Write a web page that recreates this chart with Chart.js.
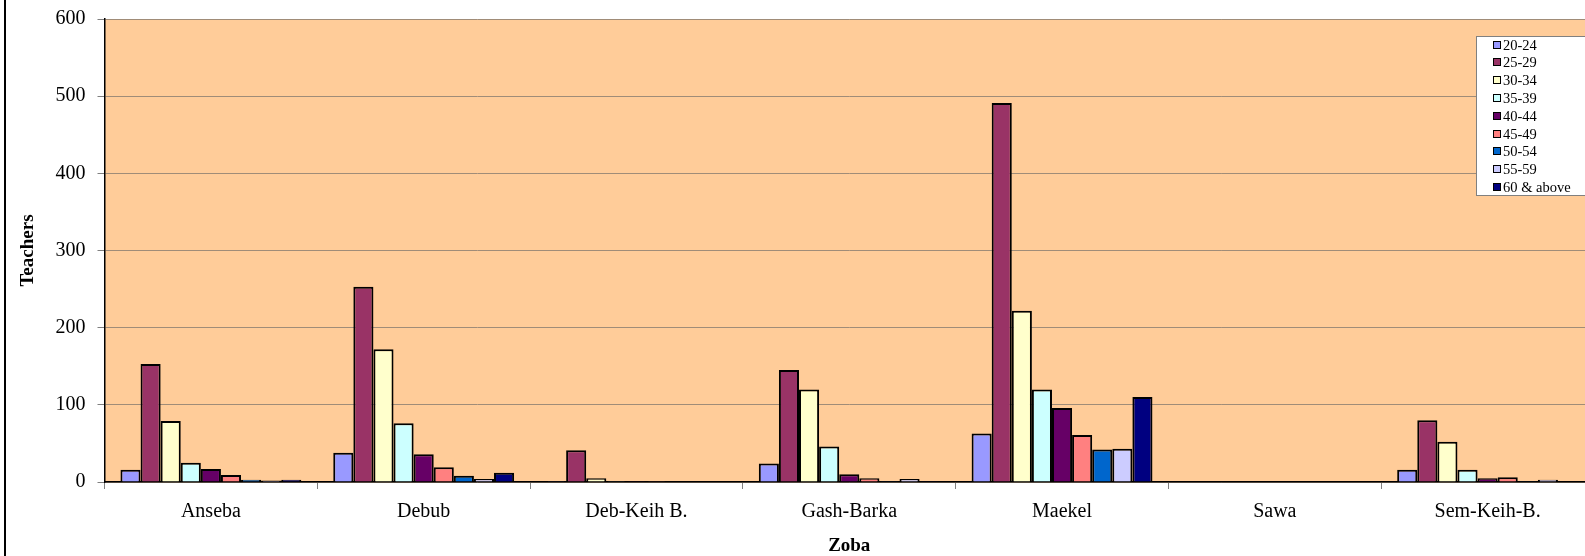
<!DOCTYPE html>
<html>
<head>
<meta charset="utf-8">
<script src="https://cdn.jsdelivr.net/npm/chart.js@4.4.1/dist/chart.umd.min.js"></script>
<style>
  html, body { margin: 0; padding: 0; background: #ffffff; overflow: hidden; width: 1585px; height: 556px; }
  #wrap { position: absolute; left: 0; top: 0; width: 1600px; height: 556px; }
  #frame { position: absolute; left: 4px; top: 0; width: 2px; height: 556px; background: #000; }
</style>
</head>
<body>
<div id="wrap"><canvas id="c" width="1600" height="556"></canvas></div>
<div id="frame"></div>
<script>
const categories = ["Anseba", "Debub", "Deb-Keih B.", "Gash-Barka", "Maekel", "Sawa", "Sem-Keih-B."];
const ageGroups = ["20-24", "25-29", "30-34", "35-39", "40-44", "45-49", "50-54", "55-59", "60 & above"];
const colors = ["#9999FF", "#993366", "#FFFFCC", "#CCFFFF", "#660066", "#FF8080", "#0066CC", "#CCCCFF", "#000080"];

const v20_24 = [16, 38, 1, 24, 63, 0, 16];
const v25_29 = [153, 253, 41, 145, 491, 0, 80];
const v30_34 = [79, 172, 5, 120, 222, 0, 52];
const v35_39 = [25, 76, 1, 46, 120, 0, 16];
const v40_44 = [17, 36, 1, 10, 96, 0, 5];
const v45_49 = [9, 19, 1, 5, 61, 0, 6];
const v50_54 = [3, 8, 0, 1, 42, 0, 1];
const v55_59 = [2, 4, 0, 4, 43, 0, 3];
const v60up  = [3, 12, 0, 1, 110, 0, 0];
const seriesValues = [v20_24, v25_29, v30_34, v35_39, v40_44, v45_49, v50_54, v55_59, v60up];
const yTicks = [0, 100, 200, 300, 400, 500, 600];

const FONT = "'Liberation Serif', 'Times New Roman', serif";

const plotBg = {
  id: 'plotBg',
  beforeDraw(chart) {
    const a = chart.chartArea, ctx = chart.ctx;
    ctx.save();
    ctx.fillStyle = '#FFCC99';
    ctx.fillRect(a.left, a.top, a.right - a.left, a.bottom - a.top);
    ctx.restore();
  }
};

const boxLegend = {
  id: 'boxLegend',
  afterDraw(chart) {
    const ctx = chart.ctx;
    const x0 = 1476, y0 = 36, w = 140, h = 159;
    ctx.save();
    ctx.fillStyle = '#ffffff';
    ctx.fillRect(x0, y0, w, h);
    ctx.strokeStyle = '#808080';
    ctx.lineWidth = 1;
    ctx.strokeRect(x0 + 0.5, y0 + 0.5, w, h);
    ctx.font = '14.5px ' + FONT;
    ctx.textBaseline = 'middle';
    chart.data.datasets.forEach((ds, i) => {
      const cy = Math.round(44.5 + i * 17.8);
      ctx.fillStyle = ds.backgroundColor;
      ctx.fillRect(1493, cy - 4, 8, 8);
      ctx.strokeStyle = '#000';
      ctx.strokeRect(1493.5, cy - 3.5, 7, 7);
      ctx.fillStyle = '#000';
      ctx.fillText(ds.label, 1503, cy + 1);
    });
    ctx.restore();
  }
};

new Chart(document.getElementById('c'), {
  type: 'bar',
  data: {
    labels: categories,
    datasets: ageGroups.map((g, i) => ({
      label: g,
      data: seriesValues[i],
      backgroundColor: colors[i],
      borderColor: '#000000',
      borderWidth: 2,
      categoryPercentage: 0.85,
      barPercentage: 1.0
    }))
  },
  options: {
    responsive: false,
    animation: false,
    devicePixelRatio: 1,
    layout: { padding: { left: 0, top: 19, right: 6, bottom: 0 } },
    plugins: {
      legend: { display: false },
      tooltip: { enabled: false }
    },
    scales: {
      x: {
        offset: true,
        grid: { display: true, offset: true, drawOnChartArea: false, tickLength: 7, tickColor: '#808080', lineWidth: 1 },
        border: { display: true, color: '#000000', width: 1.5 },
        ticks: { color: '#000', font: { family: FONT, size: 20 }, padding: 11, maxRotation: 0 },
        title: { display: true, text: 'Zoba', color: '#000', font: { family: FONT, size: 19, weight: 'bold' }, padding: { top: 0, bottom: -1 } },
        afterFit(scale) { scale.height = 74; scale.paddingLeft = 0; scale.paddingRight = 0; }
      },
      y: {
        min: 0, max: 600,
        afterBuildTicks(scale) { scale.ticks = yTicks.map(v => ({ value: v })); },
        grid: { color: '#a08c78', lineWidth: 1, tickLength: 7, tickColor: '#808080' },
        border: { display: true, color: '#000000', width: 1.5 },
        ticks: { color: '#000', font: { family: FONT, size: 20 }, padding: 12 },
        title: { display: true, text: 'Teachers', color: '#000', font: { family: FONT, size: 19, weight: 'bold' }, padding: { top: 17, bottom: 0 } },
        afterFit(scale) { scale.width = 104.5; scale.paddingTop = 0; scale.paddingBottom = 0; }
      }
    }
  },
  plugins: [plotBg, boxLegend]
});
</script>
</body>
</html>
